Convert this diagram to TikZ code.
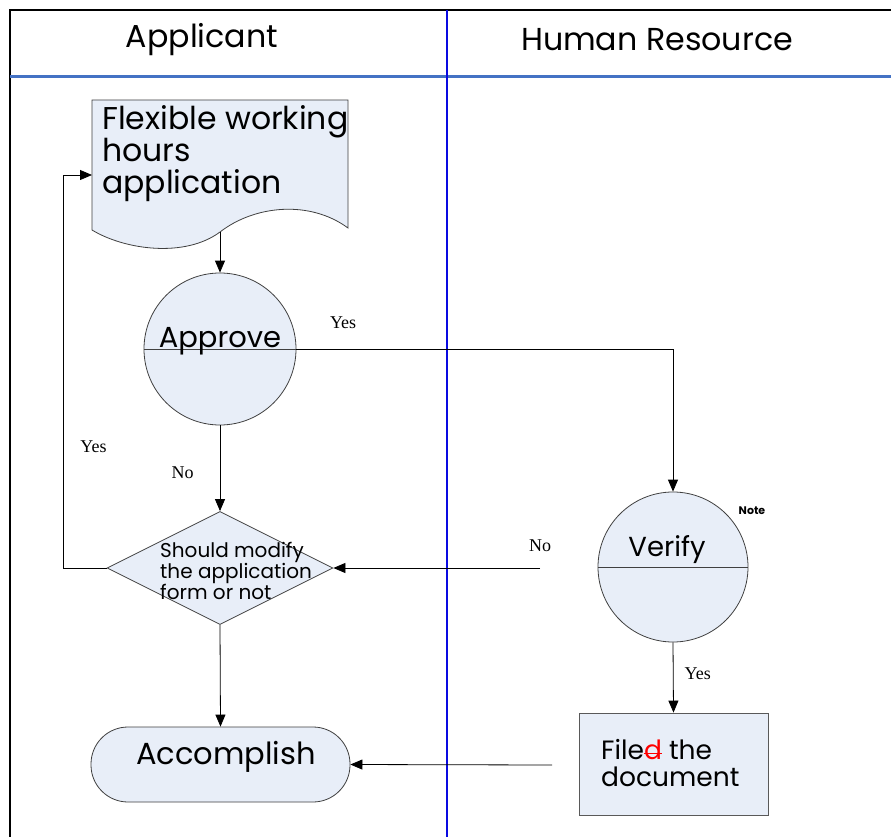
\documentclass[tikz,border=0pt]{standalone}
\usepackage{fontspec}
\setmainfont{Poppins}
\newfontfamily\answerfont{Liberation Serif}
\usetikzlibrary{arrows.meta,shapes.geometric,positioning}
\definecolor{shapefill}{RGB}{232,238,248}
\definecolor{headline}{RGB}{68,114,196}
\definecolor{laneline}{RGB}{10,10,225}
\newcommand\redstrike[1]{{\color{red}\setbox0\hbox{#1}\rlap{#1}\rule[0.4ex]{\wd0}{1pt}}}
\tikzset{
  flowbox/.style={draw=black!75, fill=shapefill, line width=0.8pt},
  flowarrow/.style={-{Triangle[length=12pt,width=10pt]}, black, line width=0.8pt},
  answer/.style={font=\answerfont\fontsize{18}{20}\selectfont, inner sep=1pt},
  lanetitle/.style={font=\fontsize{31.7}{34}\selectfont},
}
\begin{document}
\begin{tikzpicture}[x=1pt,y=-1pt]
			\useasboundingbox (0,0) rectangle (891,837);
			\fill[white] (0,0) rectangle (891,837);
			\draw[line width=1.5pt] (10,837) -- (10,10) -- (891,10);
			\draw[headline, line width=3pt] (10,77) -- (891,77);
			\draw[laneline, line width=2.5pt] (447,10) -- (447,837);
			\node[lanetitle] (applicant) at (202,40) {Applicant};
			\node[lanetitle] (hr) at (657,40) {Human Resource};

			\draw[flowbox] (92,100) -- (348,100) -- (348,228)
				.. controls (310,200) and (255,205) .. (220,232)
				.. controls (185,258) and (125,250) .. (92,230) -- cycle;
			\coordinate (formbottom) at (220,232);
			\coordinate (formleft) at (92,175);
			\node[anchor=north west, align=left, inner sep=0,
				font=\fontsize{31.5}{32}\selectfont] (form) at (102,105) {Flexible working\\hours\\application};

			\node[flowbox, circle, minimum size=152pt] (approve) at (220,349) {};
			\draw[black!75] (approve.west) -- (approve.east);
			\node[font=\fontsize{29}{32}\selectfont] (approvetext) at ([yshift=8pt]approve.center) {Approve};

			\node[flowbox, diamond, minimum width=226pt, minimum height=113pt, inner sep=0] (modify) at (220,568) {};
			\node[anchor=west, align=left, inner sep=0,
				font=\fontsize{20}{21}\selectfont] (modifytext) at (160,571) {Should modify\\the application\\form or not};

			\node[flowbox, rounded corners=37pt, minimum width=259pt, minimum height=75pt] (accomplish) at (220.5,764.5) {};
			\node[font=\fontsize{30.5}{32}\selectfont] (accomplishtext) at (226,757) {Accomplish};

			\node[flowbox, circle, minimum size=150pt] (verify) at (673,567) {};
			\draw[black!75] (verify.west) -- (verify.east);
			\node[font=\fontsize{27.5}{30}\selectfont] (verifytext) at ([xshift=-6pt,yshift=17pt]verify.center) {Verify};
			\node[font=\bfseries\fontsize{11}{13}\selectfont] (note) at (752,511) {Note};

			\node[flowbox, draw=black!65, minimum width=189pt, minimum height=102pt] (filed) at (673.5,764) {};
			\node[anchor=west, align=left, inner sep=0,
				font=\fontsize{26.5}{27}\selectfont] (filedtext) at (601,763) {File\redstrike{d} the\\document};

			\coordinate (loopcorner) at (63,568);
			\coordinate (noreturn) at (540,568);
			\coordinate (filedreturn) at (552,765);

			\draw[flowarrow] (formbottom) -- (approve.north);
			\draw[flowarrow] (approve.east) -| (verify.north) node[answer, pos=0.062, above=19pt] (yesverify) {Yes};
			\draw[flowarrow] (approve.south) -- (modify.north) node[answer, pos=0.55, left=25pt] (nomodify) {No};
			\draw[flowarrow] (modify.west) -- (loopcorner) |- (formleft) node[answer, pos=0.154, right=16pt] (yesmodify) {Yes};
			\draw[flowarrow] (modify.south) -- (accomplish.north);
			\draw[flowarrow] (verify.south) -- (filed.north) node[answer, pos=0.44, right=10pt] (yesfiled) {Yes};
			\draw[flowarrow] (noreturn) -- (modify.east) node[answer, at start, above=15pt] (noverify) {No};
			\draw[flowarrow] (filedreturn) -- (accomplish.east);
\end{tikzpicture}
\end{document}
